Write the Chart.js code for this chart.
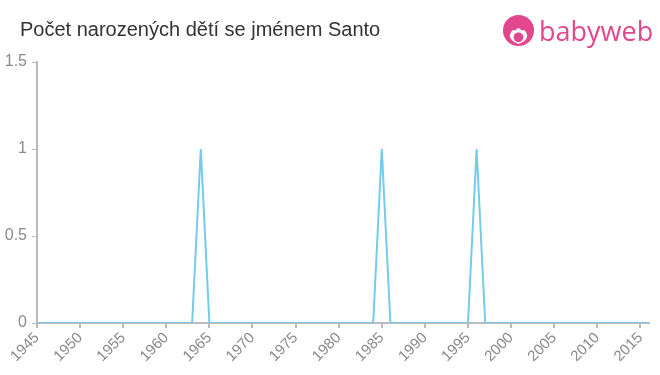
<!DOCTYPE html>
<html>
<head>
<meta charset="utf-8">
<script src="https://cdn.jsdelivr.net/npm/chart.js@4/dist/chart.umd.min.js"></script>
<style>
  body { margin: 0; background: #fff; }
  #wrap { position: relative; width: 660px; height: 375px; }
  #title {
    position: absolute; left: 20px; top: 18px;
    font-family: "Liberation Sans", Arial, sans-serif; font-size: 20px; color: #333;
  }
  #logo { position: absolute; left: 502px; top: 14px; display: flex; align-items: center; }
  #logo span {
    font-family: "Open Sans", "Liberation Sans", sans-serif; font-size: 27px; color: #e2468c;
    margin-left: 4px; letter-spacing: 0px; line-height: 30px;
  }
</style>
</head>
<body>
<div id="wrap">
  <canvas id="chart" width="660" height="375"></canvas>
  <div id="title">Počet narozených dětí se jménem Santo</div>
  <div id="logo">
    <svg width="33" height="33" viewBox="0 0 34 34">
      <circle cx="17" cy="17" r="16" fill="#e2468c"/>
      <path d="M8 22 Q10 15 14 17 Q17 12 20 17 Q24 15 26 22 Q26 28 17 31 Q8 28 8 22 Z" fill="#fff"/>
      <circle cx="17" cy="24" r="5" fill="#e2468c"/>
    </svg>
    <span>babyweb</span>
  </div>
</div>
<script>
const years = [];
for (let y = 1945; y <= 2016; y++) years.push(y);
const peakYears = [1964, 1985, 1996];
const births = years.map(y => (peakYears.includes(y) ? 1 : 0));
const yTicks = [0, 0.5, 1, 1.5];

const ctx = document.getElementById('chart');
new Chart(ctx, {
  type: 'line',
  data: {
    datasets: [{
      data: years.map((y, i) => ({ x: y, y: births[i] })),
      borderColor: '#74cbec',
      borderWidth: 2,
      pointRadius: 0,
      tension: 0,
      fill: false,
    }],
  },
  options: {
    responsive: false,
    animation: false,
    layout: { padding: { top: 62, right: 11, left: 0, bottom: 0 } },
    plugins: { legend: { display: false }, tooltip: { enabled: false } },
    scales: {
      x: {
        type: 'linear',
        min: 1945,
        max: 2016,
        afterBuildTicks: scale => {
          scale.ticks = years.filter(y => y % 5 === 0).map(y => ({ value: y }));
        },
        afterFit: scale => { scale.height = 52; },
        border: { color: '#bbb', width: 2 },
        grid: { drawOnChartArea: false, color: '#bbb', tickLength: 5, lineWidth: 2 },
        ticks: {
          autoSkip: false,
          maxRotation: 45,
          minRotation: 45,
          padding: 1,
          color: '#8a8a8a',
          font: { family: '"Liberation Sans", Arial, sans-serif', size: 15 },
          callback: v => String(v),
        },
      },
      y: {
        min: 0,
        max: 1.5,
        afterBuildTicks: scale => {
          scale.ticks = yTicks.map(v => ({ value: v }));
        },
        afterFit: scale => { scale.width = 37; },
        border: { color: '#bbb', width: 2 },
        grid: { drawOnChartArea: false, color: '#bbb', tickLength: 5, lineWidth: 1 },
        ticks: {
          color: '#8a8a8a',
          padding: 5,
          font: { family: '"Liberation Sans", Arial, sans-serif', size: 16 },
          callback: v => String(v),
        },
      },
    },
  },
});
</script>
</body>
</html>
